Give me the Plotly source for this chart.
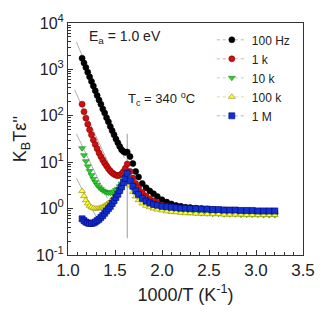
import plotly.graph_objects as go

# 1000/T (K^-1)
x = [1.15, 1.17, 1.19, 1.21, 1.23, 1.25, 1.27, 1.29, 1.31, 1.33, 1.35, 1.37, 1.39,
     1.41, 1.43, 1.45, 1.47, 1.49, 1.51, 1.53, 1.55, 1.57, 1.59, 1.61, 1.63,
     1.66, 1.69, 1.72, 1.75, 1.79, 1.83, 1.87, 1.91, 1.95, 2.0, 2.05, 2.1, 2.15,
     2.2, 2.25, 2.3, 2.36, 2.42, 2.48, 2.54, 2.6, 2.66, 2.72, 2.78, 2.84, 2.9,
     2.96, 3.02, 3.08, 3.14, 3.2]

y_100Hz = [1740, 1380, 1100, 871, 692, 550, 437, 347, 275, 219, 178, 141, 115,
           91.2, 74.1, 58.9, 47.9, 38.9, 31.6, 26.3, 21.9, 18.6, 17.0, 16.2, 16.6,
           13.2, 9.33, 6.31, 4.79, 3.47, 2.82, 2.40, 2.09, 1.82, 1.55, 1.38, 1.26, 1.17,
           1.12, 1.07, 1.05, 1.02, 1.00, 0.977, 0.955, 0.933, 0.933, 0.912, 0.912, 0.891, 0.891,
           0.871, 0.871, 0.871, 0.851, 0.851]

y_1k = [178, 123, 89.1, 66.1, 50.1, 38.9, 30.2, 24.0, 19.5, 15.8, 13.2, 11.2, 9.55,
        8.32, 7.24, 6.46, 5.89, 5.50, 5.25, 5.13, 5.25, 5.62, 6.31, 7.41, 9.12,
        6.31, 4.57, 3.47, 2.82, 2.24, 1.86, 1.62, 1.45, 1.32, 1.20, 1.12, 1.07, 1.02,
        1.00, 0.977, 0.955, 0.933, 0.912, 0.891, 0.891, 0.871, 0.871, 0.851, 0.851, 0.832, 0.832,
        0.832, 0.813, 0.813, 0.813, 0.794]

y_10k = [20.0, 14.1, 10.5, 8.13, 6.46, 5.25, 4.37, 3.72, 3.24, 2.88, 2.63, 2.45, 2.34,
         2.24, 2.19, 2.19, 2.24, 2.34, 2.51, 2.69, 3.02, 3.47, 4.07, 4.90, 6.03,
         3.80, 2.82, 2.19, 1.82, 1.51, 1.32, 1.20, 1.12, 1.07, 1.00, 0.955, 0.912, 0.891,
         0.871, 0.851, 0.832, 0.813, 0.794, 0.794, 0.776, 0.776, 0.759, 0.759, 0.759, 0.741, 0.741,
         0.741, 0.741, 0.724, 0.724, 0.724]

y_100k = [2.40, 1.86, 1.51, 1.29, 1.15, 1.07, 1.02, 1.00, 1.00, 1.02, 1.05, 1.10, 1.15,
          1.23, 1.32, 1.45, 1.58, 1.78, 2.00, 2.24, 2.57, 3.02, 3.55, 4.17, 5.01,
          3.16, 2.29, 1.82, 1.51, 1.29, 1.15, 1.07, 1.00, 0.955, 0.912, 0.871, 0.851, 0.832,
          0.813, 0.794, 0.794, 0.776, 0.776, 0.759, 0.759, 0.759, 0.741, 0.741, 0.741, 0.741, 0.724,
          0.724, 0.724, 0.724, 0.724, 0.724]

y_1M = [0.603, 0.550, 0.513, 0.490, 0.479, 0.479, 0.490, 0.513, 0.550, 0.589, 0.646, 0.708, 0.794,
        0.891, 1.00, 1.12, 1.29, 1.48, 1.74, 2.04, 2.45, 2.95, 3.63, 4.47, 5.75,
        3.98, 3.02, 2.40, 2.00, 1.66, 1.45, 1.32, 1.23, 1.18, 1.12, 1.10, 1.07, 1.05,
        1.02, 1.02, 1.00, 1.00, 0.977, 0.977, 0.955, 0.955, 0.933, 0.933, 0.933, 0.912, 0.912,
        0.912, 0.891, 0.891, 0.891, 0.891]

series_names = ["100 Hz", "1 k", "10 k", "100 k", "1 M"]

# Ea = 1.0 eV guide lines (start/end points)
fit_x = [[1.09, 1.60], [1.07, 1.50], [1.09, 1.42], [1.09, 1.30]]
fit_y = [[3900, 12.3], [363, 4.7], [40.7, 1.66], [4.5, 0.66]]

# Tc marker line
tc_x = [1.63, 1.63]
tc_y = [0.23, 41]

fig = go.Figure()

for fx, fy in zip(fit_x, fit_y):
    fig.add_trace(go.Scatter(x=fx, y=fy, mode="lines", showlegend=False,
                             line=dict(color="#9a9a9a", width=0.8), hoverinfo="skip"))
fig.add_trace(go.Scatter(x=tc_x, y=tc_y, mode="lines", showlegend=False,
                         line=dict(color="#9a9a9a", width=1), hoverinfo="skip"))

styles = [
    dict(symbol="circle", color="#000000", edge="#000000", line="#9a9a9a"),
    dict(symbol="circle", color="#cc1111", edge="#880000", line="#e08080"),
    dict(symbol="triangle-down", color="#33cc33", edge="#118811", line="#90d090"),
    dict(symbol="triangle-up", color="#ffff33", edge="#888800", line="#d0d080"),
    dict(symbol="square", color="#1133cc", edge="#000088", line="#8090e0"),
]
ys = [y_100Hz, y_1k, y_10k, y_100k, y_1M]

for name, yv, st in zip(series_names, ys, styles):
    fig.add_trace(go.Scatter(
        x=x, y=yv, name=name, mode="lines+markers",
        line=dict(color=st["line"], width=0.7, dash="dot"),
        marker=dict(symbol=st["symbol"], size=6, color=st["color"],
                    line=dict(color=st["edge"], width=0.6)),
    ))

minor_y = [m * 10.0 ** e for e in range(-1, 4) for m in range(2, 10)]

fig.update_layout(
    width=327, height=315,
    margin=dict(l=68, r=15, t=12, b=60),
    paper_bgcolor="white", plot_bgcolor="white",
    font=dict(family="Liberation Sans, Arial, sans-serif", color="#222222"),
    showlegend=True,
    legend=dict(x=0.612, y=0.99, xanchor="left", yanchor="top",
                bgcolor="rgba(0,0,0,0)", font=dict(size=12),
                tracegroupgap=0, itemwidth=30),
    xaxis=dict(range=[1.0, 3.5], tickmode="linear", tick0=1.0, dtick=0.5,
               tickformat=".1f", ticks="inside", ticklen=5, tickcolor="#333",
               showline=True, linecolor="#333", linewidth=1, mirror=True,
               showgrid=False, zeroline=False, tickfont=dict(size=17),
               minor=dict(ticks="inside", ticklen=3, dtick=0.1, tickcolor="#333", showgrid=False),
               title=dict(text="1000/T (K<sup>-1</sup>)", font=dict(size=18), standoff=8)),
    yaxis=dict(type="log", range=[-1, 4], tickmode="array",
               tickvals=[0.1, 1, 10, 100, 1000, 10000],
               ticktext=["10<sup>-1</sup>", "10<sup>0</sup>", "10<sup>1</sup>",
                         "10<sup>2</sup>", "10<sup>3</sup>", "10<sup>4</sup>"],
               ticks="inside", ticklen=5, tickcolor="#333",
               showline=True, linecolor="#333", linewidth=1, mirror=True,
               showgrid=False, zeroline=False, tickfont=dict(size=16),
               minor=dict(ticks="inside", ticklen=3, tickmode="array", tickvals=minor_y,
                          tickcolor="#333", showgrid=False),
               title=dict(text="K<sub>B</sub>Tε''", font=dict(size=18), standoff=4)),
    annotations=[
        dict(x=1.205, y=3.70, xref="x", yref="y", xanchor="left", yanchor="middle",
             text="E<sub>a</sub> = 1.0 eV", showarrow=False, font=dict(size=14)),
        dict(x=1.615, y=2.36, xref="x", yref="y", xanchor="left", yanchor="middle",
             text="T<sub>c</sub> = 340 <sup>o</sup>C", showarrow=False, font=dict(size=13)),
    ],
)

fig.write_html("out.html")
